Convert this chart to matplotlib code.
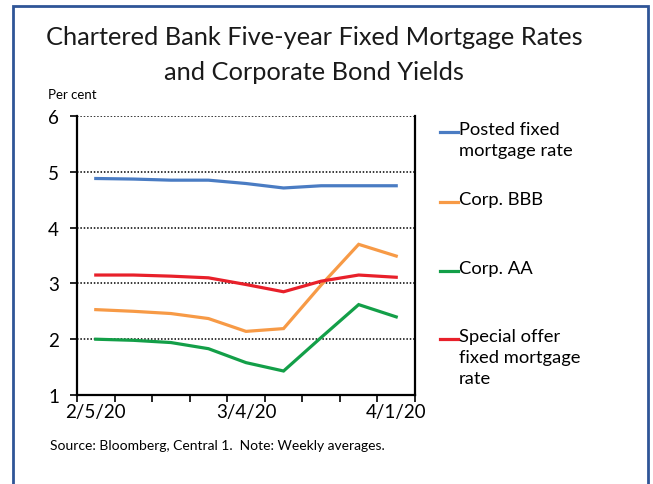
import matplotlib.pyplot as plt
from matplotlib.lines import Line2D
from matplotlib.patches import Rectangle

plt.rcParams['font.family'] = ['Lato', 'DejaVu Sans']

# weekly averages
weeks = ['2/5/20', '2/12/20', '2/19/20', '2/26/20', '3/4/20',
         '3/11/20', '3/18/20', '3/25/20', '4/1/20']
posted = [4.88, 4.87, 4.85, 4.85, 4.79, 4.71, 4.75, 4.75, 4.75]
bbb = [2.53, 2.50, 2.46, 2.37, 2.14, 2.19, 2.97, 3.70, 3.49]
aa = [2.00, 1.98, 1.94, 1.83, 1.58, 1.43, 2.03, 2.62, 2.40]
special = [3.15, 3.15, 3.13, 3.10, 2.98, 2.85, 3.04, 3.15, 3.11]

series = [
    ('Posted fixed\nmortgage rate', posted, '#4A7CC3'),
    ('Corp. BBB', bbb, '#F79A46'),
    ('Corp. AA', aa, '#139F48'),
    ('Special offer\nfixed mortgage\nrate', special, '#E8202A'),
]
shown_labels = {0: '2/5/20', 4: '3/4/20', 8: '4/1/20'}

W, H = 653, 485
fig = plt.figure(figsize=(W / 100, H / 100), dpi=100)

# outer frame
fig.patches.append(Rectangle((13 / W, -0.05), (648 - 13) / W, 1 - 7 / H + 0.05,
                             transform=fig.transFigure, fill=False,
                             edgecolor='#2F5597', linewidth=2))

ax = fig.add_axes([77 / W, 1 - 396 / H, (415 - 77) / W, (396 - 117) / H])

x = list(range(len(weeks)))
for label, vals, col in series:
    ax.plot(x, vals, color=col, linewidth=2.3, solid_joinstyle='miter')

ax.set_xlim(-0.5, len(weeks) - 0.5)
ax.set_ylim(1, 6)
ax.set_yticks([1, 2, 3, 4, 5, 6])
ax.tick_params(axis='y', direction='out', length=5, width=1.2,
               labelsize=13.5, pad=8)
for y in [2, 3, 4, 5, 6]:
    ax.axhline(y, color='black', linestyle=(0, (1, 1.2)), linewidth=1.1, zorder=0)

ax.set_xticks([i - 0.5 for i in range(len(weeks) + 1)])
ax.set_xticklabels([])
ax.set_xticks(x, minor=True)
ax.set_xticklabels([shown_labels.get(i, '') for i in x], minor=True)
ax.tick_params(axis='x', which='major', direction='out', length=5, width=1.2)
ax.tick_params(axis='x', which='minor', length=0, labelsize=13.5, pad=6)

for s in ['left', 'right', 'bottom']:
    ax.spines[s].set_linewidth(1.6)
ax.spines['top'].set_visible(False)

fig.text(314 / W, 1 - 38 / H, 'Chartered Bank Five-year Fixed Mortgage Rates',
         ha='center', va='center', fontsize=18.3, color='#1a1a1a')
fig.text(314 / W, 1 - 72 / H, 'and Corporate Bond Yields',
         ha='center', va='center', fontsize=18.3, color='#1a1a1a')
fig.text(48 / W, 1 - 95 / H, 'Per cent', ha='left', va='center', fontsize=9.5)
fig.text(50 / W, 1 - 446 / H, 'Source: Bloomberg, Central 1.  Note: Weekly averages.',
         ha='left', va='center', fontsize=10)

# legend, handles aligned with the first text line
first_rows = [133, 203, 272, 340]
for (label, vals, col), yy in zip(series, first_rows):
    fig.add_artist(Line2D([440 / W, 458 / W], [1 - yy / H, 1 - yy / H],
                          color=col, linewidth=2.3, transform=fig.transFigure))
    fig.text(459 / W, 1 - (yy - 11) / H, label, ha='left', va='top',
             fontsize=13.2, linespacing=1.38)

fig.savefig('out.png', dpi=100)
